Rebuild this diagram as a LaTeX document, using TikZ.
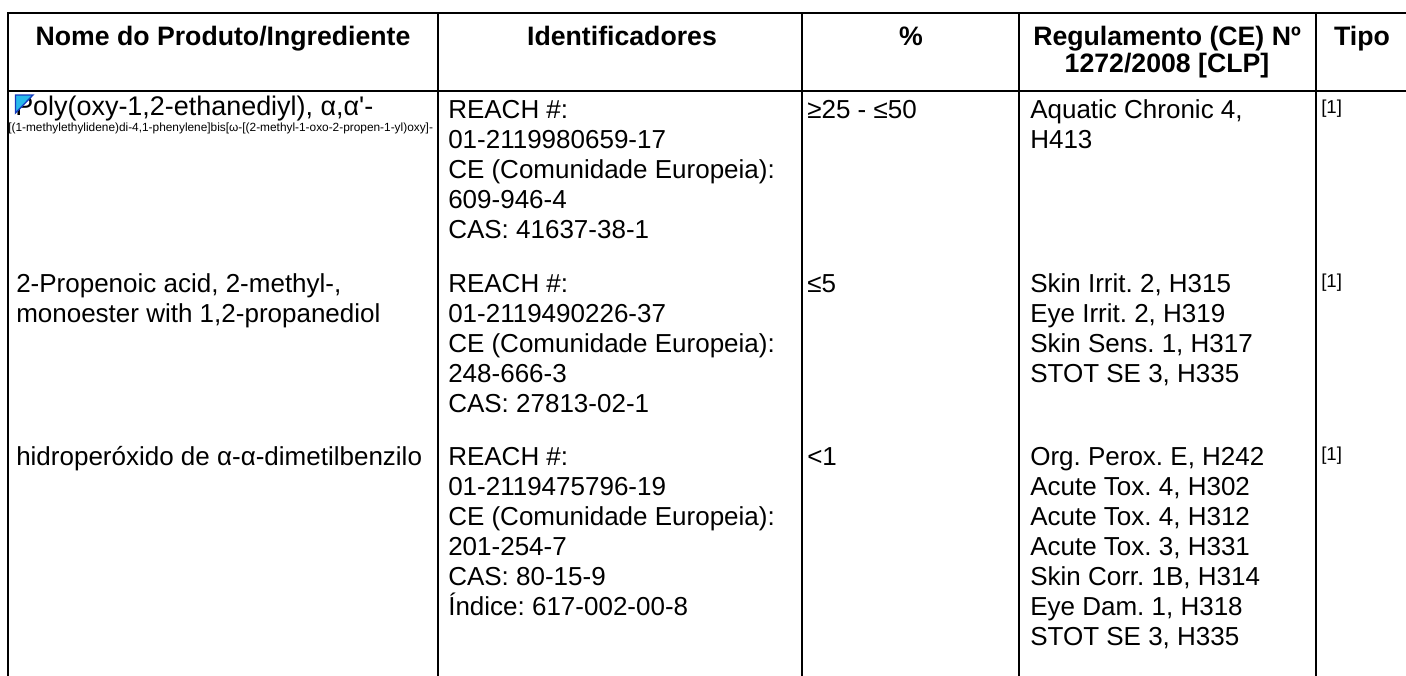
\documentclass[tikz,border=0pt]{standalone}
\usepackage{fontspec}
\setmainfont{Liberation Sans}
\frenchspacing
\definecolor{markfill}{RGB}{40,185,235}
\definecolor{markedge}{RGB}{20,60,190}
\tikzset{
  rule/.style={line width=1.5pt,line cap=rect},
  headtext/.style={anchor=base,inner sep=0pt,font=\fontsize{20}{20}\selectfont\bfseries},
  celltext/.style={anchor=base west,inner sep=0pt,font=\fontsize{19.5}{22.5}\selectfont},
  tinytext/.style={anchor=base west,inner sep=0pt,font=\fontsize{8.9}{10}\selectfont},
  typetext/.style={anchor=base west,inner sep=0pt,font=\fontsize{14}{16}\selectfont}
}

\begin{document}
\frenchspacing
\begin{tikzpicture}[x=0.75pt,y=-0.75pt]
\useasboundingbox (0,0) rectangle (1406,675);

% Table rules
\draw[rule] (8,12.5) -- (1406,12.5);
\draw[rule] (8,91) -- (1406,91);
\foreach \x in {8,438,802,1019,1316}
  \draw[rule] (\x,12.5) -- (\x,675);

% Header row
\node[headtext] (hNome) at (223,45) {Nome do Produto/Ingrediente};
\node[headtext] (hIdent) at (622,45) {Identificadores};
\node[headtext] (hPct) at (911,45) {\%};
\node[headtext] (hReg1) at (1167,45) {Regulamento (CE) Nº};
\node[headtext] (hReg2) at (1167,72) {1272/2008 [CLP]};
\node[headtext] (hTipo) at (1362,45) {Tipo};

% Row 1
\node[celltext,font=\fontsize{20.2}{23}\selectfont] (name1) at (15,115) {Poly(oxy-1,2-ethanediyl), α,α\textquotesingle-};
\node[tinytext] (name1b) at (8,131) {[(1-methylethylidene)di-4,1-phenylene]bis[ω-[(2-methyl-1-oxo-2-propen-1-yl)oxy]-};
\filldraw[fill=markfill,draw=markedge,line width=1pt] (15.5,95) -- (33,95) -- (15.5,113) -- cycle;
\foreach \t [count=\i] in {REACH \#:,01-2119980659-17,CE (Comunidade Europeia):,609-946-4,CAS: 41637-38-1}
  \node[celltext] (id1-\i) at (448,{118+30*(\i-1)}) {\t};
\node[celltext] (pct1) at (807,118) {≥25 - ≤50};
\foreach \t [count=\i] in {{Aquatic Chronic 4,},H413}
  \node[celltext] (clp1-\i) at (1030,{118+30*(\i-1)}) {\t};
\node[typetext] (tipo1) at (1321,113) {[1]};

% Row 2
\foreach \t [count=\i] in {{2-Propenoic acid, 2-methyl-,},{monoester with 1,2-propanediol}}
  \node[celltext] (name2-\i) at (16,{292+30*(\i-1)}) {\t};
\foreach \t [count=\i] in {REACH \#:,01-2119490226-37,CE (Comunidade Europeia):,248-666-3,CAS: 27813-02-1}
  \node[celltext] (id2-\i) at (448,{292+30*(\i-1)}) {\t};
\node[celltext] (pct2) at (807,292) {≤5};
\foreach \t [count=\i] in {{Skin Irrit. 2, H315},{Eye Irrit. 2, H319},{Skin Sens. 1, H317},{STOT SE 3, H335}}
  \node[celltext] (clp2-\i) at (1030,{292+30*(\i-1)}) {\t};
\node[typetext] (tipo2) at (1321,287) {[1]};

% Row 3
\node[celltext] (name3) at (16,465) {hidroperóxido de α-α-dimetilbenzilo};
\foreach \t [count=\i] in {REACH \#:,01-2119475796-19,CE (Comunidade Europeia):,201-254-7,CAS: 80-15-9,Índice: 617-002-00-8}
  \node[celltext] (id3-\i) at (448,{465+30*(\i-1)}) {\t};
\node[celltext] (pct3) at (807,465) {<1};
\foreach \t [count=\i] in {{Org. Perox. E, H242},{Acute Tox. 4, H302},{Acute Tox. 4, H312},{Acute Tox. 3, H331},{Skin Corr. 1B, H314},{Eye Dam. 1, H318},{STOT SE 3, H335}}
  \node[celltext] (clp3-\i) at (1030,{465+30*(\i-1)}) {\t};
\node[typetext] (tipo3) at (1321,460) {[1]};

\end{tikzpicture}
\end{document}
